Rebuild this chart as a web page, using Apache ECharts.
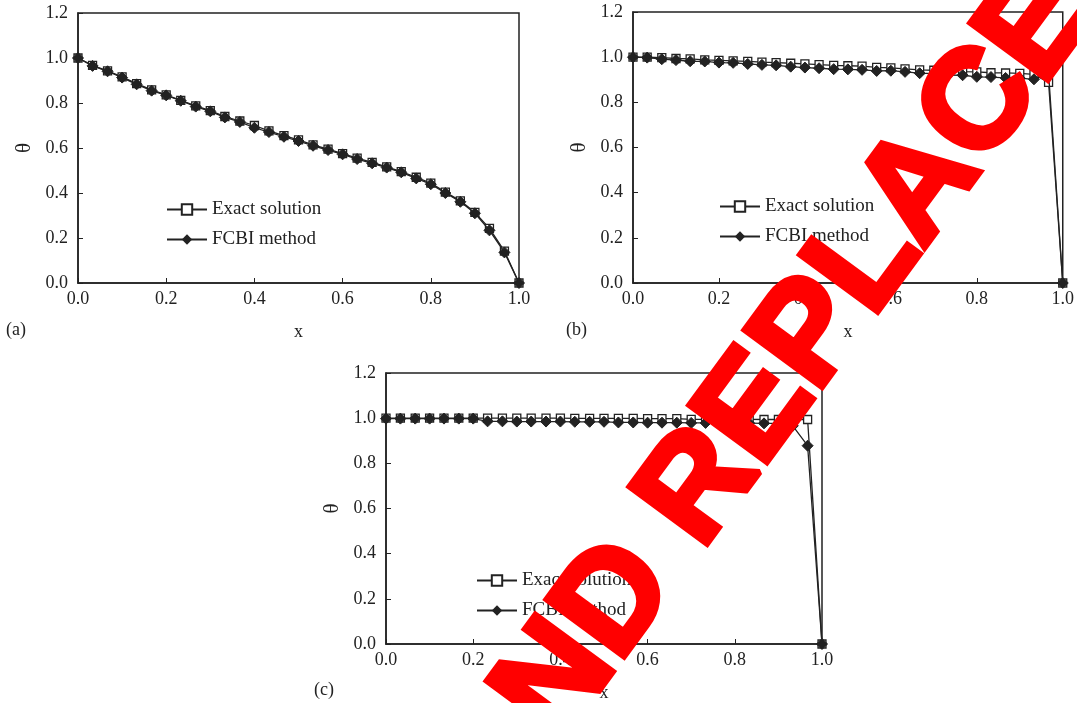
<!DOCTYPE html>
<html>
<head>
<meta charset="utf-8">
<script src="https://cdn.jsdelivr.net/npm/echarts@6/dist/echarts.min.js"></script>
<style>
  html, body { margin: 0; padding: 0; background: #fff; }
  #chart { width: 1077px; height: 703px; }
</style>
</head>
<body>
<div id="chart"></div>
<script>
  // x positions of the nodes (shared by the three panels)
  const xs = [0, 0.033, 0.067, 0.1, 0.133, 0.167, 0.2, 0.233, 0.267, 0.3, 0.333, 0.367, 0.4, 0.433, 0.467,
    0.5, 0.533, 0.567, 0.6, 0.633, 0.667, 0.7, 0.733, 0.767, 0.8, 0.833, 0.867, 0.9, 0.933, 0.967, 1.0]

  // panel (a)
  const exactA = [1.0, 0.967, 0.943, 0.916, 0.886, 0.858, 0.836, 0.812, 0.787, 0.766, 0.740, 0.720, 0.700, 0.676, 0.655,
    0.636, 0.614, 0.595, 0.575, 0.555, 0.536, 0.516, 0.495, 0.470, 0.444, 0.404, 0.365, 0.314, 0.243, 0.142, 0.0]
  const fcbiA = [1.0, 0.965, 0.941, 0.913, 0.883, 0.855, 0.834, 0.810, 0.784, 0.763, 0.736, 0.716, 0.690, 0.671, 0.650,
    0.631, 0.610, 0.591, 0.572, 0.551, 0.532, 0.513, 0.492, 0.465, 0.439, 0.400, 0.361, 0.310, 0.234, 0.136, 0.0]

  // panel (b)
  const exactB = [1.0, 1.0, 0.998, 0.994, 0.992, 0.988, 0.986, 0.984, 0.981, 0.978, 0.976, 0.973, 0.970, 0.967, 0.964,
    0.962, 0.960, 0.955, 0.953, 0.948, 0.944, 0.942, 0.939, 0.936, 0.935, 0.931, 0.930, 0.928, 0.924, 0.888, 0.0]
  const fcbiB = [1.0, 0.998, 0.991, 0.987, 0.982, 0.981, 0.976, 0.975, 0.970, 0.966, 0.964, 0.958, 0.954, 0.951, 0.947,
    0.946, 0.944, 0.939, 0.940, 0.935, 0.929, 0.927, 0.921, 0.920, 0.913, 0.912, 0.908, 0.907, 0.902, 0.930, 0.0]

  // panel (c)
  const exactC = [1.0, 1.0, 1.0, 1.0, 1.0, 1.0, 1.0, 1.0, 1.0, 1.0, 1.0, 1.0, 1.0, 0.999, 0.999,
    0.999, 0.999, 0.999, 0.998, 0.998, 0.998, 0.995, 0.995, 0.995, 0.995, 0.995, 0.994, 0.994, 0.994, 0.994, 0.0]
  const fcbiC = [0.998, 0.998, 0.998, 0.998, 0.998, 0.998, 0.998, 0.986, 0.986, 0.985, 0.985, 0.985, 0.985, 0.984, 0.984,
    0.984, 0.981, 0.981, 0.980, 0.980, 0.980, 0.979, 0.979, 0.979, 0.978, 0.978, 0.977, 0.977, 0.966, 0.878, 0.0]

  const xTicks = ['0.0', '0.2', '0.4', '0.6', '0.8', '1.0']
  const yTicks = ['0.0', '0.2', '0.4', '0.6', '0.8', '1.0', '1.2']
  const panelLabels = ['(a)', '(b)', '(c)']
  const seriesNames = ['Exact solution', 'FCBI method']

  const ink = '#222'
  const serif = '"Liberation Serif", "DejaVu Serif", serif'

  const grids = [
    {left: 78, top: 13, width: 441, height: 270},
    {left: 633, top: 12, width: 435, height: 271},
    {left: 386, top: 373, width: 436, height: 271}
  ]

  function pairs(vals) {
    return vals.map((v, i) => [xs[i], v])
  }

  function xAxisFor(i) {
    return {
      gridIndex: i, type: 'value', min: 0, max: 1, interval: 0.2,
      name: 'x', nameLocation: 'middle', nameGap: 40,
      nameTextStyle: {color: ink, fontFamily: serif, fontSize: 18},
      axisLine: {lineStyle: {color: ink, width: 1.5}},
      axisTick: {inside: true, length: 5, lineStyle: {color: ink}},
      axisLabel: {color: ink, fontFamily: serif, fontSize: 18, margin: 7,
        formatter: v => xTicks[Math.round(v / 0.2)]},
      splitLine: {show: false}
    }
  }

  function yAxisFor(i) {
    return {
      gridIndex: i, type: 'value', min: 0, max: 1.2, interval: 0.2,
      name: 'θ', nameLocation: 'middle', nameGap: 43,
      nameTextStyle: {color: ink, fontFamily: serif, fontSize: 21},
      axisLine: {lineStyle: {color: ink, width: 1.5}},
      axisTick: {inside: true, length: 5, lineStyle: {color: ink}},
      axisLabel: {color: ink, fontFamily: serif, fontSize: 18, margin: 10,
        formatter: v => yTicks[Math.round(v / 0.2)]},
      splitLine: {show: false}
    }
  }

  function exactSeries(i, vals) {
    return {
      name: seriesNames[0], type: 'line', xAxisIndex: i, yAxisIndex: i,
      data: pairs(vals), symbol: 'rect', symbolSize: 8,
      lineStyle: {color: ink, width: 1.3},
      itemStyle: {color: '#fff', borderColor: ink, borderWidth: 1.3},
      z: 2
    }
  }

  function fcbiSeries(i, vals) {
    return {
      name: seriesNames[1], type: 'line', xAxisIndex: i, yAxisIndex: i,
      data: pairs(vals), symbol: 'diamond', symbolSize: 11,
      lineStyle: {color: ink, width: 1.3},
      itemStyle: {color: ink, borderColor: ink},
      z: 3
    }
  }

  function legendAt(left, top) {
    return {
      left: left, top: top, orient: 'vertical', itemGap: 11,
      itemWidth: 40, itemHeight: 13, selectedMode: false,
      data: seriesNames,
      textStyle: {color: ink, fontFamily: serif, fontSize: 19, padding: [0, 0, 0, 0]}
    }
  }

  const chart = echarts.init(document.getElementById('chart'))
  chart.setOption({
    animation: false,
    backgroundColor: '#fff',
    grid: grids.map(g => Object.assign({show: true, borderColor: ink, borderWidth: 1.5, backgroundColor: 'transparent'}, g)),
    xAxis: [0, 1, 2].map(xAxisFor),
    yAxis: [0, 1, 2].map(yAxisFor),
    legend: [legendAt(161, 195), legendAt(714, 192), legendAt(471, 566)],
    series: [
      exactSeries(0, exactA), fcbiSeries(0, fcbiA),
      exactSeries(1, exactB), fcbiSeries(1, fcbiB),
      exactSeries(2, exactC), fcbiSeries(2, fcbiC)
    ],
    graphic: [
      {type: 'text', left: 6, top: 321, style: {text: panelLabels[0], fill: ink, font: '18px ' + serif}},
      {type: 'text', left: 566, top: 321, style: {text: panelLabels[1], fill: ink, font: '18px ' + serif}},
      {type: 'text', left: 314, top: 681, style: {text: panelLabels[2], fill: ink, font: '18px ' + serif}},
      {
        type: 'text', x: 797, y: 356, rotation: 0.937, z: 100,
        style: {
          text: 'ND REPLACE', fill: '#ff0000', align: 'center', verticalAlign: 'middle',
          font: 'bold 140px "Liberation Sans", Arial, sans-serif',
          stroke: '#ff0000', lineWidth: 6
        }
      }
    ]
  })
</script>
</body>
</html>
